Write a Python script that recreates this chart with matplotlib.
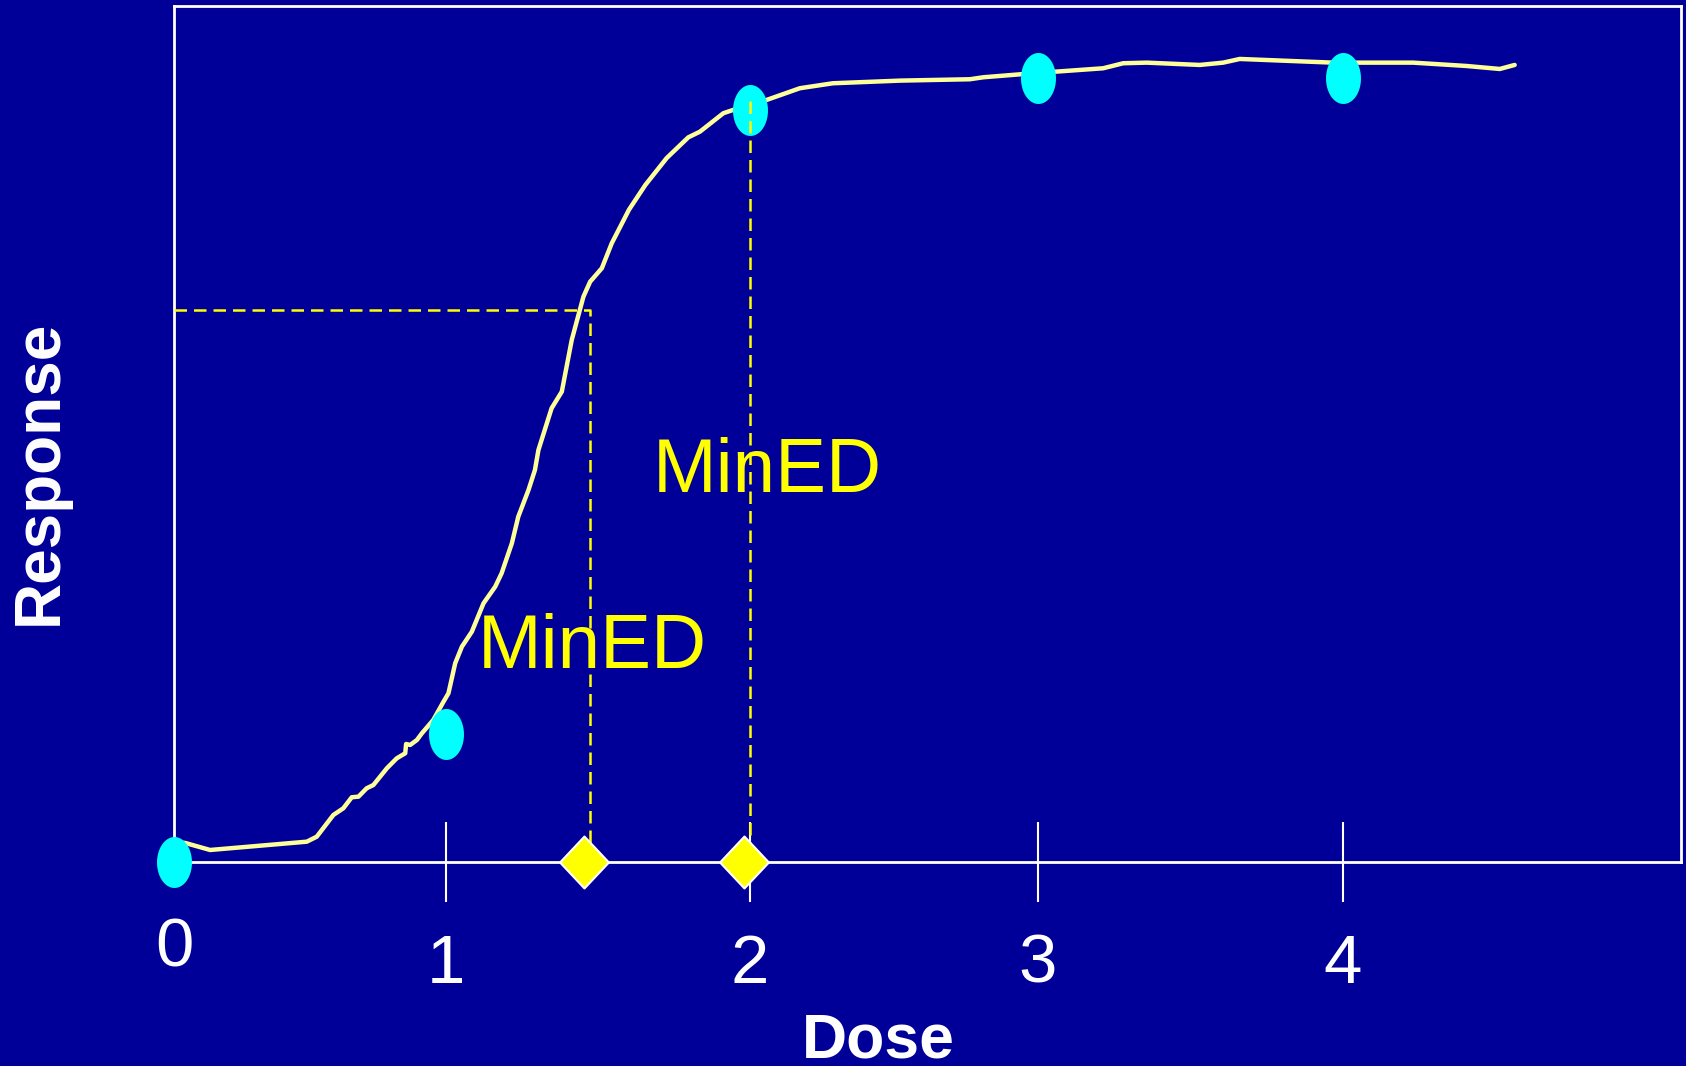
import numpy as np
import matplotlib
matplotlib.use('Agg')
import matplotlib.pyplot as plt
from matplotlib.path import Path

plt.rcParams['font.family'] = ['Liberation Sans', 'DejaVu Sans']

# courbe dose-réponse
dose = [0.000, 0.038, 0.123, 0.454, 0.488, 0.545, 0.579, 0.608, 0.631, 0.659,
        0.682, 0.728, 0.762, 0.791, 0.794, 0.808, 0.831, 0.848, 0.887, 0.922,
        0.939, 0.962, 0.985, 1.019, 1.059, 1.099, 1.121, 1.156, 1.178, 1.213,
        1.235, 1.247, 1.292, 1.327, 1.361, 1.401, 1.424, 1.464, 1.498, 1.557,
        1.613, 1.686, 1.760, 1.800, 1.880, 1.920, 2.028, 2.142, 2.255, 2.485,
        2.724, 2.770, 2.941, 3.180, 3.249, 3.329, 3.511, 3.591, 3.648, 3.967,
        4.241, 4.424, 4.538, 4.589]
response = [2.38, 2.27, 1.45, 2.42, 3.00, 5.54, 6.32, 7.61, 7.68, 8.66,
            9.04, 10.99, 12.16, 12.75, 13.83, 13.72, 14.30, 15.08, 16.64, 18.77,
            19.76, 23.26, 25.20, 26.95, 30.27, 32.21, 33.78, 37.28, 40.39, 43.51,
            45.84, 48.18, 53.05, 54.99, 61.03, 66.09, 67.84, 69.41, 72.33, 76.25,
            79.14, 82.28, 84.70, 85.37, 87.52, 87.98, 89.07, 90.44, 91.02, 91.33,
            91.49, 91.72, 92.19, 92.77, 93.36, 93.43, 93.16, 93.43, 93.86, 93.43,
            93.43, 93.04, 92.69, 93.16]

# doses testées
point_dose = [0.0, 0.931, 1.971, 2.957, 4.0]
point_resp = [0.0, 15.0, 87.9, 91.6, 91.6]

# MinED sur l'axe
mined_dose = [1.404, 1.951]
mined_resp = [0.0, 0.0]

# lignes pointillées
guide1_x = [0.0, 1.424, 1.424]
guide1_y = [64.5, 64.5, 0.0]
guide2_x = [1.971, 1.971]
guide2_y = [88.9, 0.0]

# étiquettes MinED
label_x = [1.039, 1.638]
label_y = [22.7, 43.3]

tick_pos = [0.931, 1.971, 2.957, 4.0]
tick_labels = ['1', '2', '3', '4']

bg = '#000099'

fig = plt.figure(figsize=(16.86, 10.66), dpi=100, facecolor=bg)
ax = fig.add_axes([0.1033, 0.191, 0.8935, 0.803])
ax.set_facecolor(bg)
ax.set_xlim(0, 5.157)
ax.set_ylim(0, 100)

for s in ax.spines.values():
    s.set_color('white')
    s.set_linewidth(2)

# marqueurs personnalisés
t = np.linspace(0, 2 * np.pi, 80)
ellipse = Path(np.column_stack([0.686 * np.cos(t), np.sin(t)]), closed=True)
diamond = Path([(0, 1), (0.94, 0), (0, -1), (-0.94, 0), (0, 1)], closed=True)

ax.plot(dose, response, color='#FFFF99', lw=3.2, zorder=2,
        solid_joinstyle='round', solid_capstyle='round')
ax.plot(point_dose, point_resp, ls='none', marker=ellipse, ms=36.7,
        color='#00FFFF', mec='none', zorder=3, clip_on=False)
ax.plot(guide1_x, guide1_y, color='#FFFF00', lw=1.8, ls=(0, (5.0, 2.8)), zorder=4)
ax.plot(guide2_x, guide2_y, color='#FFFF00', lw=1.8, ls=(0, (5.0, 2.8)), zorder=4)
ax.plot(mined_dose, mined_resp, ls='none', marker=diamond, ms=37.4,
        mfc='#FFFF00', mec='white', mew=1.5, zorder=5, clip_on=False)

for x, y in zip(label_x, label_y):
    ax.text(x, y, 'MinED', color='#FFFF00', fontsize=55, ha='left', va='baseline')

ax.set_xticks(tick_pos, tick_labels)
ax.set_xticks([0], ['0'], minor=True)
ax.tick_params(axis='x', which='major', direction='inout', length=57.3, width=1.5,
               color='white', labelcolor='white', labelsize=49.6, pad=22)
ax.tick_params(axis='x', which='minor', length=0, pad=39,
               labelcolor='white', labelsize=49.6)
ax.set_yticks([])

ax.set_xlabel('Dose', fontsize=45, fontweight='bold', color='white')
ax.xaxis.set_label_coords(0.4676, -0.1744)
ax.set_ylabel('Response', fontsize=46, fontweight='bold', color='white')
ax.yaxis.set_label_coords(-0.0695, 0.456)

fig.savefig('out.png', dpi=100, facecolor=bg)
